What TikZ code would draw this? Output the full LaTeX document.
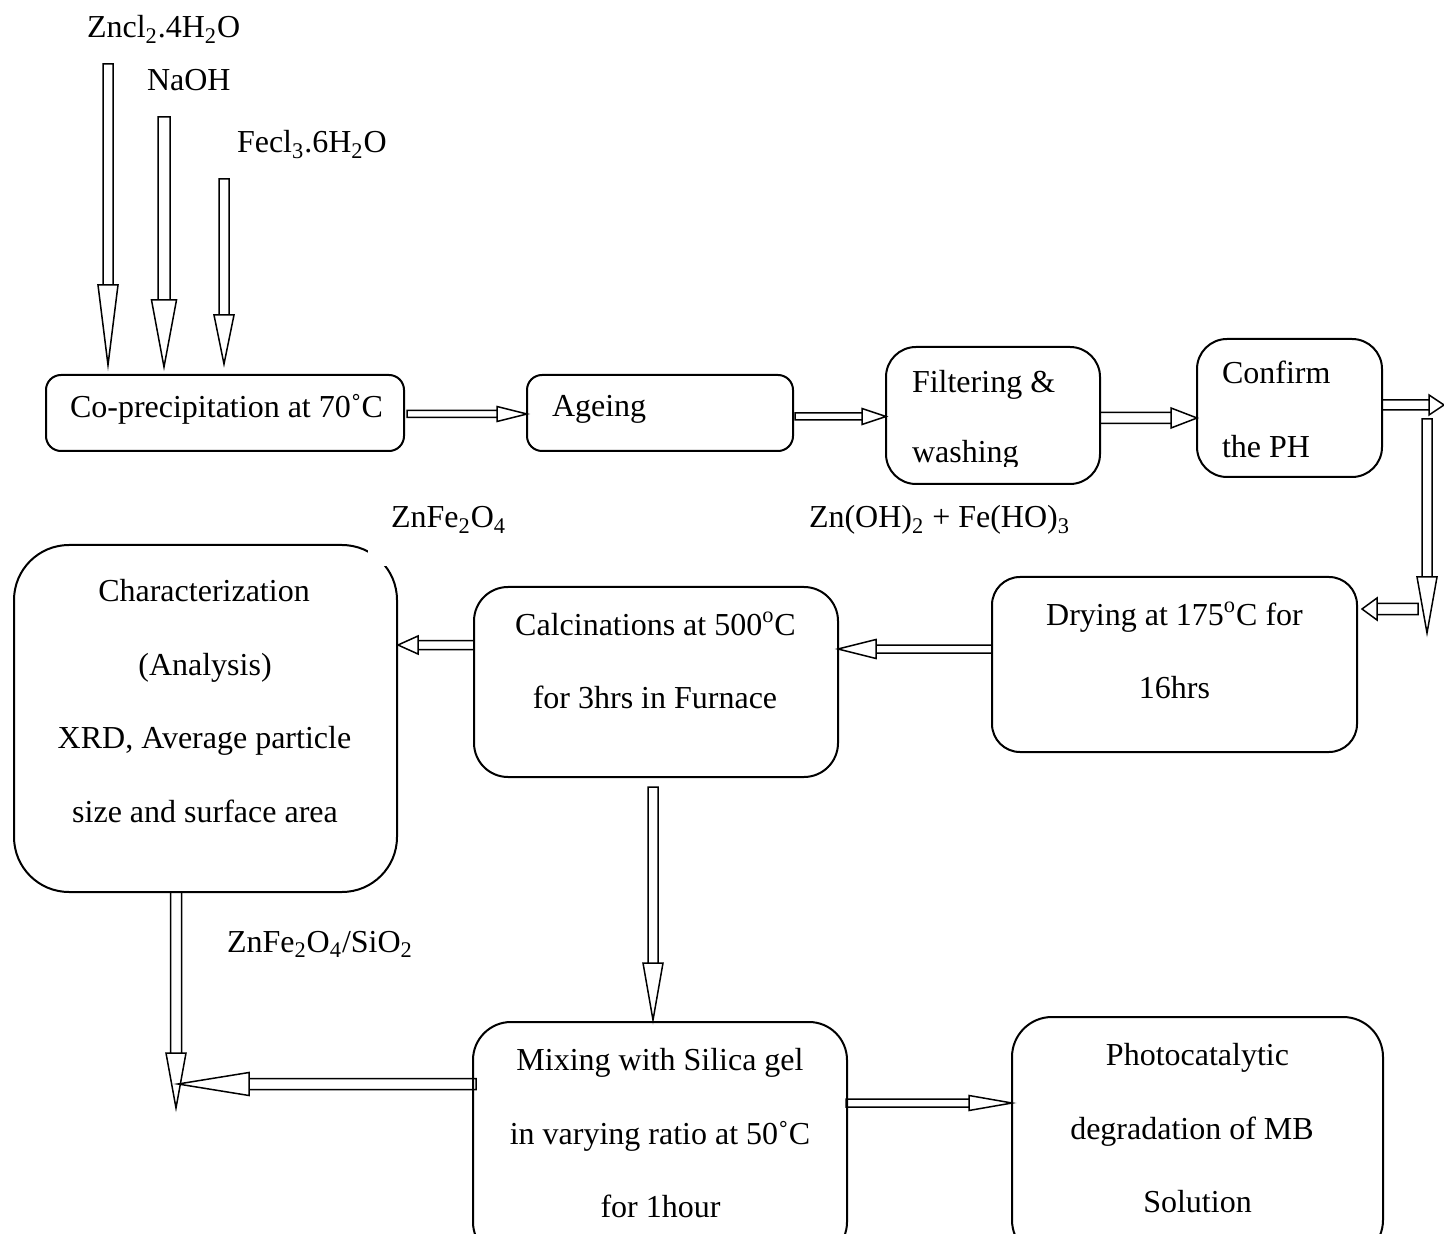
\documentclass[tikz,border=0pt]{standalone}
\usepackage{fontspec}
\setmainfont{Liberation Serif}
\usetikzlibrary{calc}
\tikzset{
  box/.style={draw, line width=1pt, rectangle, inner sep=0pt, outer sep=0pt},
  txt/.style={inner sep=0pt, outer sep=0pt, font=\fontsize{16pt}{19pt}\selectfont},
  blockline/.style={draw, line width=0.75pt, line join=miter},
}
% start, end, shaft half width (px), head half width (px), head length (px)
\newcommand\blockarrow[5]{%
  \draw[blockline] let \p1=(#1), \p2=(#2),
    \n1={atan2(\y2-\y1,\x2-\x1)},
    \n2={veclen(\x2-\x1,\y2-\y1)-#5*0.5pt},
    \n3={#3*0.5pt}, \n4={#4*0.5pt} in
    ($(\p1)+({\n1+90}:\n3)$) -- ($(\p1)+(\n1:\n2)+({\n1+90}:\n3)$)
    -- ($(\p1)+(\n1:\n2)+({\n1-90}:\n3)$) -- ($(\p1)+({\n1-90}:\n3)$) -- cycle
    ($(\p1)+(\n1:\n2)+({\n1+90}:\n4)$) -- (\p2)
    -- ($(\p1)+(\n1:\n2)+({\n1-90}:\n4)$) -- cycle;}
\begin{document}
\begin{tikzpicture}[x=0.5pt,y=-0.5pt]
\useasboundingbox (0,0) rectangle (1444,1234);
\clip (0,0) rectangle (1444,1234);

% boxes
\node[box, rounded corners=7.5pt, minimum width=179pt, minimum height=38pt] (copre) at (225,413) {};
\node[box, rounded corners=7.5pt, minimum width=133pt, minimum height=38pt] (ageing) at (660,413) {};
\node[box, rounded corners=15pt, minimum width=107pt, minimum height=68.5pt] (filter) at (993,415.5) {};
\node[box, rounded corners=15pt, minimum width=92.5pt, minimum height=69pt] (confirm) at (1289.5,408) {};
\node[box, rounded corners=14pt, minimum width=182.5pt, minimum height=87.5pt] (drying) at (1174.5,664.5) {};
\node[box, rounded corners=17pt, minimum width=182pt, minimum height=95pt] (calc) at (656,682) {};
\node[box, rounded corners=27.5pt, minimum width=191.5pt, minimum height=173.5pt] (char) at (205.5,718.5) {};
\node[box, rounded corners=19pt, minimum width=187pt, minimum height=119pt] (mixing) at (660,1141) {};
\node[box, rounded corners=20pt, minimum width=185.5pt, minimum height=121.5pt] (photo) at (1197.5,1138.5) {};

% texts
\node[txt, anchor=base west] (tzn) at (87,38) {Zncl\textsubscript{2}.4H\textsubscript{2}O};
\node[txt, anchor=base west] (tna) at (147,91) {NaOH};
\node[txt, anchor=base west] (tfe) at (237,153) {Fecl\textsubscript{3}.6H\textsubscript{2}O};
\node[txt, anchor=base west] (tcopre) at (70,418) {Co-precipitation at 70˚C};
\node[txt, anchor=base west] (tageing) at (552,417) {Ageing};
\node[txt, anchor=base west] (tfilter) at (912,393) {Filtering \&};
\begin{scope}
  \clip (880,430) rectangle (1100,467);
  \node[txt, anchor=base west] (twash) at (912,463) {washing};
\end{scope}
\node[txt, anchor=base west] (tconf1) at (1222,384) {Confirm};
\node[txt, anchor=base west] (tconf2) at (1222,458) {the PH};
\node[txt, anchor=base west, fill=white, inner xsep=11.5pt, inner ysep=0pt,
      text height=11.5pt, text depth=19pt] (tzfo) at (368,528) {ZnFe\textsubscript{2}O\textsubscript{4}};
\node[txt, anchor=base west] (tzoh) at (809,528) {Zn(OH)\textsubscript{2} + Fe(HO)\textsubscript{3}};
\node[txt, anchor=base] (tch1) at (204,602) {Characterization};
\node[txt, anchor=base] (tch2) at (205,675) {(Analysis)};
\node[txt, anchor=base] (tch3) at (204.5,748) {XRD, Average particle};
\node[txt, anchor=base] (tch4) at (205,822) {size and surface area};
\node[txt, anchor=base] (tca1) at (655.5,635) {Calcinations at 500\textsuperscript{o}C};
\node[txt, anchor=base] (tca2) at (655,708) {for 3hrs in Furnace};
\node[txt, anchor=base] (tdr1) at (1174.5,625) {Drying at 175\textsuperscript{o}C for};
\node[txt, anchor=base] (tdr2) at (1174.5,698) {16hrs};
\node[txt, anchor=base west] (tzfs) at (227,952) {ZnFe\textsubscript{2}O\textsubscript{4}/SiO\textsubscript{2}};
\node[txt, anchor=base] (tmx1) at (660,1070) {Mixing with Silica gel};
\node[txt, anchor=base] (tmx2) at (660,1144) {in varying ratio at 50˚C};
\node[txt, anchor=base] (tmx3) at (660.5,1217) {for 1hour};
\node[txt, anchor=base] (tph1) at (1197.5,1065) {Photocatalytic};
\node[txt, anchor=base] (tph2) at (1192,1139) {degradation of MB};
\node[txt, anchor=base] (tph3) at (1197.5,1212) {Solution};

% arrows
\coordinate (z1s) at (108,64);
\coordinate (z1e) at ($(copre.north -| z1s)+(0,-10)$);
\blockarrow{z1s}{z1e}{5}{10}{80}
\coordinate (z2s) at (164,117);
\coordinate (z2e) at ($(copre.north -| z2s)+(0,-8)$);
\blockarrow{z2s}{z2e}{6}{12.5}{67}
\coordinate (z3s) at (224,179);
\coordinate (z3e) at ($(copre.north -| z3s)+(0,-11)$);
\blockarrow{z3s}{z3e}{5}{10}{49}

\coordinate (s4) at ($(copre.east)+(3,1)$);
\blockarrow{s4}{ageing.west |- s4}{3.5}{7.5}{30}
\coordinate (s5) at ($(ageing.east)+(2,3.5)$);
\blockarrow{s5}{filter.west |- s5}{3.5}{8}{24}
\coordinate (s6) at ($(filter.east)+(0,2.5)$);
\blockarrow{s6}{confirm.west |- s6}{5.5}{10}{26}
\coordinate (s7) at ($(confirm.east)+(0,-3)$);
\coordinate (e7) at (1444,405);
\blockarrow{s7}{e7}{5}{10}{15}
\coordinate (s8) at (1427,419);
\coordinate (e8) at (1427,633);
\blockarrow{s8}{e8}{5}{10}{56}
\coordinate (s9) at (1418,609);
\blockarrow{s9}{$(drying.east |- s9)+(5,0)$}{5.5}{11}{15}
\coordinate (s10) at ($(drying.west)+(0,-15.5)$);
\blockarrow{s10}{calc.east |- s10}{4}{9.5}{38}
\coordinate (s11) at ($(calc.west)+(0,-37)$);
\blockarrow{s11}{$(char.east |- s11)+(1,0)$}{4.5}{9}{20}
\coordinate (s12) at ($(char.south)+(-29.5,0)$);
\coordinate (e12) at ($(s12)+(0,216)$);
\blockarrow{s12}{e12}{5.5}{10}{55}
\coordinate (s13) at ($(calc.south)+(-3,10)$);
\blockarrow{s13}{$(s13 |- mixing.north)+(0,-2)$}{5}{10}{57}
\coordinate (s14) at ($(mixing.west)+(3,-57)$);
\coordinate (e14) at ($(s12 |- s14)+(2,0)$);
\blockarrow{s14}{e14}{5.5}{11.5}{71}
\coordinate (s15) at ($(mixing.east)+(-1,-38)$);
\blockarrow{s15}{photo.west |- s15}{4}{7.5}{43}
\end{tikzpicture}
\end{document}
